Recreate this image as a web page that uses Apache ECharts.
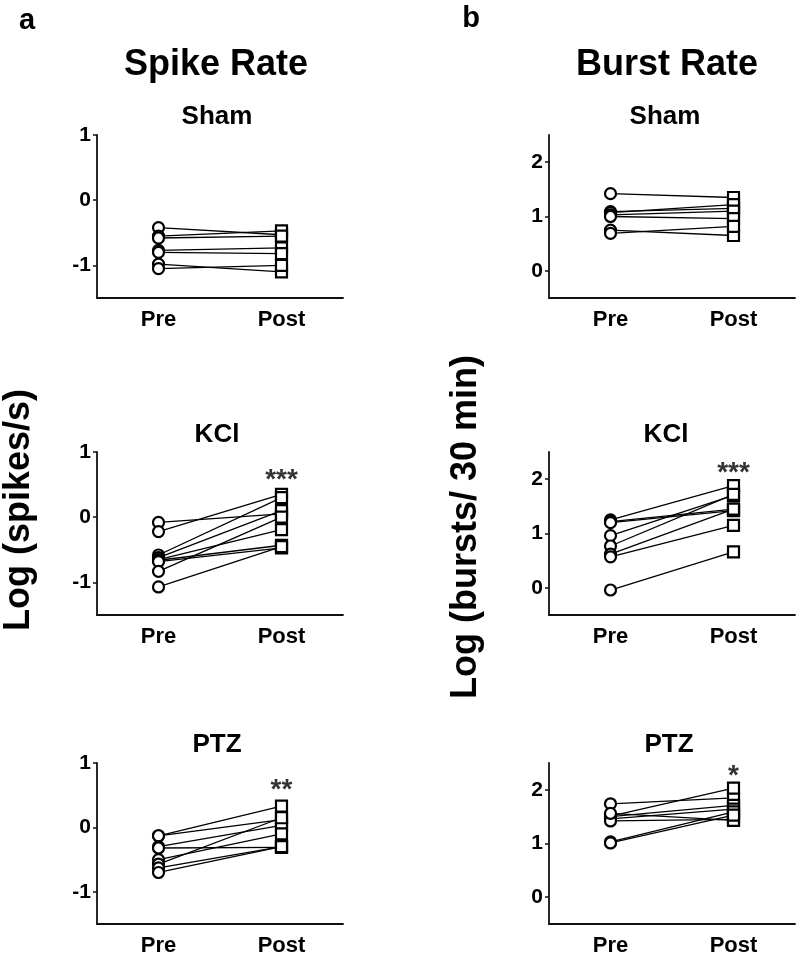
<!DOCTYPE html>
<html>
<head>
<meta charset="utf-8">
<script src="https://cdn.jsdelivr.net/npm/echarts@6/dist/echarts.min.js"></script>
<style>
html,body{margin:0;padding:0;background:#fff;}
#chart{width:798px;height:957px;}
</style>
</head>
<body>
<div id="chart"></div>
<script>
// ---- data ----
const categories = ['Pre', 'Post'];

const spikeShamPre  = [-0.42, -0.55, -0.58, -0.77, -0.80, -0.98, -1.05];
const spikeShamPost = [-0.53, -0.47, -0.55, -0.73, -0.82, -1.10, -1.00];

const spikeKClPre  = [-0.08, -0.22, -0.58, -0.62, -0.65, -0.66, -0.68, -0.83, -1.07];
const spikeKClPost = [ 0.05,  0.35,  0.30,  0.10, -0.19, -0.43, -0.47,  0.00, -0.45];

const spikePTZPre  = [-0.13, -0.13, -0.30, -0.32, -0.50, -0.57, -0.63, -0.70];
const spikePTZPost = [ 0.33,  0.12,  0.03, -0.31, -0.10,  0.15, -0.30, -0.30];

const burstShamPre  = [1.42, 1.09, 1.07, 1.03, 1.00, 0.75, 0.69];
const burstShamPost = [1.35, 1.15, 1.22, 1.10, 0.96, 0.65, 0.82];

const burstKClPre  = [1.25, 1.22, 1.20, 0.96, 0.77, 0.62, 0.57, -0.04];
const burstKClPost = [1.88, 1.45, 1.42, 1.70, 1.72, 1.45, 1.15, 0.66];

const burstPTZPre  = [1.74, 1.51, 1.50, 1.46, 1.42, 1.56, 1.03, 1.01];
const burstPTZPost = [1.85, 2.03, 1.71, 1.64, 1.45, 1.43, 1.59, 1.53];

const spikeTicks = [-1, 0, 1];
const burstTicks = [0, 1, 2];

// significance markers: [text, y position]
const sigLabels = ['', '***', '**', '', '***', '*'];
const sigY = [null, 0.67, 0.69, null, 2.24, 2.39];

const panelTitles = ['Sham', 'KCl', 'PTZ', 'Sham', 'KCl', 'PTZ'];

// ---- layout ----
const FONT = '"Liberation Sans", Arial, Helvetica, sans-serif';
const colLeft = [97, 549];
const rowTop = [135, 452, 763];
const gridW = 246, gridH = 163;

const panels = [
  {pre: spikeShamPre, post: spikeShamPost, min: -1.5, max: 1, ticks: spikeTicks},
  {pre: spikeKClPre,  post: spikeKClPost,  min: -1.5, max: 1, ticks: spikeTicks},
  {pre: spikePTZPre,  post: spikePTZPost,  min: -1.5, max: 1, ticks: spikeTicks},
  {pre: burstShamPre, post: burstShamPost, min: -0.5, max: 2.5, ticks: burstTicks},
  {pre: burstKClPre,  post: burstKClPost,  min: -0.5, max: 2.5, ticks: burstTicks},
  {pre: burstPTZPre,  post: burstPTZPost,  min: -0.5, max: 2.5, ticks: burstTicks}
];

const grid = [], xAxis = [], yAxis = [], series = [];
panels.forEach((p, k) => {
  const col = k < 3 ? 0 : 1, row = k % 3;
  grid.push({left: colLeft[col], top: rowTop[row], width: gridW, height: gridH});
  xAxis.push({
    type: 'category', gridIndex: k, data: categories, boundaryGap: true,
    axisLine: {onZero: false, lineStyle: {color: '#111', width: 1.8}},
    axisTick: {alignWithLabel: true, length: 4, lineStyle: {color: '#111', width: 1.5}},
    axisLabel: {color: '#000', fontSize: 22, fontWeight: 'bold', fontFamily: FONT, margin: 11},
    splitLine: {show: false}
  });
  yAxis.push({
    type: 'value', gridIndex: k, min: p.min, max: p.max,
    axisLine: {show: true, onZero: false, lineStyle: {color: '#111', width: 1.8}},
    axisTick: {show: true, length: 4, customValues: p.ticks, lineStyle: {color: '#111', width: 1.5}},
    axisLabel: {color: '#000', fontSize: 21, fontWeight: 'bold', fontFamily: FONT, margin: 6, customValues: p.ticks},
    splitLine: {show: false}
  });
  p.pre.forEach((v, i) => {
    series.push({
      type: 'line', xAxisIndex: k, yAxisIndex: k, symbol: 'none', silent: true, z: 2,
      lineStyle: {color: '#000', width: 1.3},
      data: [v, p.post[i]]
    });
  });
  series.push({
    type: 'scatter', xAxisIndex: k, yAxisIndex: k, symbol: 'circle', symbolSize: 11, z: 3, silent: true,
    itemStyle: {color: '#fff', borderColor: '#000', borderWidth: 2.2, opacity: 1},
    data: p.pre.map(v => [categories[0], v])
  });
  series.push({
    type: 'scatter', xAxisIndex: k, yAxisIndex: k, symbol: 'rect', symbolSize: 11, z: 3, silent: true,
    itemStyle: {color: '#fff', borderColor: '#000', borderWidth: 2.2, opacity: 1},
    data: p.post.map(v => [categories[1], v])
  });
  if (sigLabels[k]) {
    series.push({
      type: 'scatter', xAxisIndex: k, yAxisIndex: k, symbolSize: 0, z: 4, silent: true,
      label: {show: true, position: 'inside', formatter: sigLabels[k], color: '#000',
              fontSize: 28, fontWeight: 'bold', fontFamily: FONT, offset: [0, 7]},
      data: [[categories[1], sigY[k]]]
    });
  }
});

const textStyle = (txt, size) => ({text: txt, fill: '#000', font: 'bold ' + size + 'px ' + FONT, textAlign: 'center', textVerticalAlign: 'middle'});
const graphic = [
  {type: 'text', x: 27, y: 21, style: textStyle('a', 29)},
  {type: 'text', x: 471, y: 19, style: textStyle('b', 29)},
  {type: 'text', x: 216, y: 65, style: textStyle('Spike Rate', 36)},
  {type: 'text', x: 667, y: 65, style: textStyle('Burst Rate', 36)},
  {type: 'text', x: 19, y: 510, rotation: Math.PI / 2, style: textStyle('Log (spikes/s)', 36)},
  {type: 'text', x: 466, y: 527, rotation: Math.PI / 2, style: textStyle('Log (bursts/ 30 min)', 36)}
];
const titleX = [217, 217, 217, 665, 666, 669];
const titleY = [117, 435, 745, 117, 435, 745];
panelTitles.forEach((t, k) => {
  graphic.push({type: 'text', x: titleX[k], y: titleY[k], style: textStyle(t, 26)});
});

const chart = echarts.init(document.getElementById('chart'), null, {renderer: 'canvas'});
chart.setOption({
  animation: false,
  backgroundColor: '#fff',
  grid, xAxis, yAxis, series, graphic
});
</script>
</body>
</html>
